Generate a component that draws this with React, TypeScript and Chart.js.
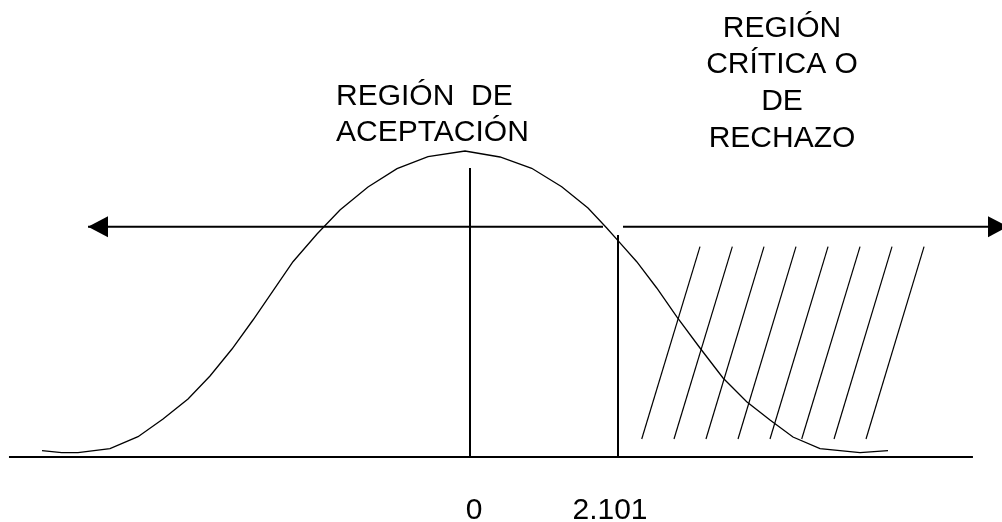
import React, { useEffect, useRef } from "react";
import { Chart, registerables } from "chart.js";

Chart.register(...registerables);

// ---- data (x in t units, y as fraction of curve peak) ----
const CURVE_T = [
  -6.076, -5.797, -5.565, -5.111, -4.713, -4.358, -4.003, -3.691, -3.379, -3.081,
  -2.513, -2.172, -1.846, -1.448, -1.036, -0.596, -0.071, 0.426, 0.876, 1.302,
  1.675, 1.941, 2.101, 2.367, 2.651, 2.934, 3.265, 3.592, 3.928, 4.259,
  4.585, 4.969, 5.537, 5.934,
];
const CURVE_Y = [
  0.0206, 0.0141, 0.0141, 0.0271, 0.0663, 0.1242, 0.1895, 0.2647, 0.3529, 0.4477,
  0.6382, 0.7288, 0.8072, 0.8824, 0.9422, 0.9814, 1.0, 0.9804, 0.9435, 0.8833,
  0.8137, 0.7484, 0.7069, 0.6382, 0.5523, 0.4585, 0.3562, 0.2582, 0.1807, 0.1209,
  0.0654, 0.0271, 0.0141, 0.0206,
];
const AXIS_T = [-6.545, 7.14];
const TICK_VALUES = [0, 2.101];
const TICK_LABELS = ["0", "2.101"];
const VLINE_TOPS = [0.9444, 0.7255];
const ARROW_Y = 0.7526;
const ARROW_LEFT_T = [-5.423, 1.888];
const ARROW_RIGHT_T = [2.172, 7.638];
const HATCH_TOP_T = [3.265, 3.724, 4.174, 4.628, 5.083, 5.537, 5.991, 6.446];
const HATCH_BOTTOM_T = [2.438, 2.896, 3.35, 3.805, 4.259, 4.709, 5.168, 5.622];
const HATCH_Y = [0.0588, 0.6873];
const LEFT_LABEL_LINES = ["REGIÓN  DE", "ACEPTACIÓN"];
const LEFT_LABEL_T = -1.902;
const LEFT_LABEL_Y = [1.1503, 1.0343];
const RIGHT_LABEL_LINES = ["REGIÓN", "CRÍTICA O", "DE", "RECHAZO"];
const RIGHT_LABEL_T = 4.429;
const RIGHT_LABEL_Y = [1.3716, 1.2559, 1.134, 1.0141];
const TICK_LABEL_Y = -0.202;

// ---- style ----
const FONT = '30px "Liberation Sans", Arial, sans-serif';
const TICK_LABEL_OFFSETS = [4, -8];
const X_MIN = -6.6724;
const X_MAX = 7.5525;
const Y_MIN = -0.21242;
const Y_MAX = 1.49346;

const seg = (pts: { x: number; y: number }[], width: number) => ({
  type: "line" as const,
  data: pts,
  borderColor: "#000",
  borderWidth: width,
  pointRadius: 0,
  fill: false,
  tension: 0,
});

const overlayPlugin = {
  id: "overlay",
  afterDatasetsDraw(chart: any) {
    const { ctx, scales } = chart;
    const xs = scales.x;
    const ys = scales.y;
    ctx.save();
    // arrowheads
    ctx.fillStyle = "#000";
    const ay = ys.getPixelForValue(ARROW_Y);
    const lt = xs.getPixelForValue(ARROW_LEFT_T[0]);
    const rt = xs.getPixelForValue(ARROW_RIGHT_T[1]);
    ctx.beginPath();
    ctx.moveTo(lt, ay);
    ctx.lineTo(lt + 20, ay - 10.5);
    ctx.lineTo(lt + 20, ay + 10.5);
    ctx.closePath();
    ctx.fill();
    ctx.beginPath();
    ctx.moveTo(rt, ay);
    ctx.lineTo(rt - 20, ay - 10.5);
    ctx.lineTo(rt - 20, ay + 10.5);
    ctx.closePath();
    ctx.fill();
    // texts
    ctx.font = FONT;
    ctx.textBaseline = "alphabetic";
    ctx.textAlign = "left";
    LEFT_LABEL_LINES.forEach((s, i) => {
      ctx.fillText(s, xs.getPixelForValue(LEFT_LABEL_T), ys.getPixelForValue(LEFT_LABEL_Y[i]));
    });
    ctx.textAlign = "center";
    RIGHT_LABEL_LINES.forEach((s, i) => {
      ctx.fillText(s, xs.getPixelForValue(RIGHT_LABEL_T), ys.getPixelForValue(RIGHT_LABEL_Y[i]));
    });
    TICK_LABELS.forEach((s, i) => {
      ctx.fillText(
        s,
        xs.getPixelForValue(TICK_VALUES[i]) + TICK_LABEL_OFFSETS[i],
        ys.getPixelForValue(TICK_LABEL_Y)
      );
    });
    ctx.restore();
  },
};

export default function App() {
  const ref = useRef<HTMLCanvasElement | null>(null);
  useEffect(() => {
    if (!ref.current) return;
    const datasets: any[] = [];
    datasets.push(seg(CURVE_T.map((t, i) => ({ x: t, y: CURVE_Y[i] })), 1.3));
    datasets.push(seg(AXIS_T.map((t) => ({ x: t, y: 0 })), 2));
    TICK_VALUES.forEach((t, i) =>
      datasets.push(seg([{ x: t, y: 0 }, { x: t, y: VLINE_TOPS[i] }], 2))
    );
    datasets.push(seg(ARROW_LEFT_T.map((t) => ({ x: t, y: ARROW_Y })), 2));
    datasets.push(seg(ARROW_RIGHT_T.map((t) => ({ x: t, y: ARROW_Y })), 2));
    HATCH_TOP_T.forEach((t, i) =>
      datasets.push(
        seg(
          [
            { x: HATCH_BOTTOM_T[i], y: HATCH_Y[0] },
            { x: t, y: HATCH_Y[1] },
          ],
          1.2
        )
      )
    );
    const chart = new Chart(ref.current, {
      type: "scatter",
      data: { datasets },
      options: {
        animation: false,
        responsive: true,
        maintainAspectRatio: false,
        layout: { padding: 0 },
        plugins: { legend: { display: false }, tooltip: { enabled: false } },
        scales: {
          x: { type: "linear", display: false, min: X_MIN, max: X_MAX },
          y: { type: "linear", display: false, min: Y_MIN, max: Y_MAX },
        },
      },
      plugins: [overlayPlugin],
    });
    return () => chart.destroy();
  }, []);
  return (
    <div
      style={{
        position: "absolute",
        left: 0,
        top: 0,
        width: 1002,
        height: 522,
        background: "#fff",
      }}
    >
      <canvas ref={ref} />
    </div>
  );
}
